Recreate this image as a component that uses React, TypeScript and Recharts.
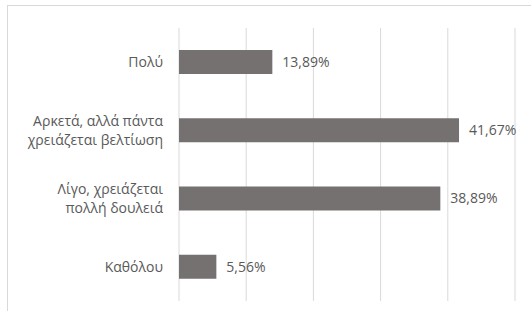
import React from "react";
import { BarChart, Bar, XAxis, YAxis, CartesianGrid, LabelList } from "recharts";

const categories = [
  "Πολύ",
  "Αρκετά, αλλά πάντα\nχρειάζεται βελτίωση",
  "Λίγο, χρειάζεται\nπολλή δουλειά",
  "Καθόλου",
];
const values = [13.89, 41.67, 38.89, 5.56];
const xTicks = [0, 10, 20, 30, 40, 50];

const data = categories.map((c, i) => ({ name: c, value: values[i] }));

const FONT = "'Open Sans', 'Noto Sans', sans-serif";
const TEXT = "#595959";

const CategoryTick = (props: any) => {
  const { x, y, payload } = props;
  const lines = String(payload.value).split("\n");
  const lh = 19;
  const start = -((lines.length - 1) * lh) / 2;
  return (
    <text x={x} y={y} textAnchor="end" fill={TEXT} fontSize={14} fontFamily={FONT}>
      {lines.map((l, i) => (
        <tspan key={i} x={x} y={y + start + i * lh} dy="0.35em">
          {l}
        </tspan>
      ))}
    </text>
  );
};

const fmt = (v: any) => Number(v).toFixed(2).replace(".", ",") + "%";

export default function App() {
  return (
    <div style={{ position: "absolute", left: 0, top: 0, width: 531, height: 311, background: "#fff", overflow: "hidden" }}>
      <div
        style={{
          position: "absolute",
          left: 7,
          top: 5,
          width: 560,
          height: 340,
          borderTop: "1.5px solid #d9d9d9",
          borderLeft: "1.5px solid #d9d9d9",
        }}
      />
      <div style={{ position: "absolute", left: 0, top: 0 }}>
        <BarChart
          width={531}
          height={311}
          data={data}
          layout="vertical"
          margin={{ top: 28, right: 16, bottom: 10, left: 0 }}
        >
          <CartesianGrid horizontal={false} vertical={true} stroke="#d9d9d9" strokeWidth={1} />
          <XAxis type="number" domain={[0, 50]} ticks={xTicks} hide />
          <YAxis
            type="category"
            dataKey="name"
            width={179}
            axisLine={false}
            tickLine={false}
            tickSize={0}
            tickMargin={16}
            tick={<CategoryTick />}
            interval={0}
          />
          <Bar dataKey="value" fill="#767171" barSize={24} isAnimationActive={false}>
            <LabelList
              dataKey="value"
              position="right"
              offset={10}
              formatter={fmt}
              fill={TEXT}
              fontSize={14}
              fontFamily={FONT}
            />
          </Bar>
        </BarChart>
      </div>
    </div>
  );
}
